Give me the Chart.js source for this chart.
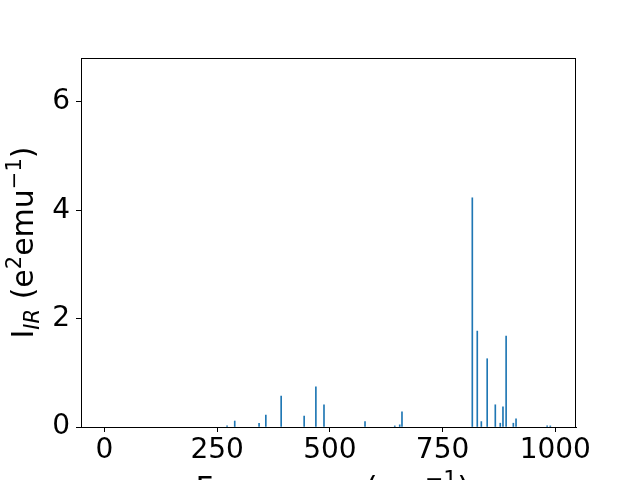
<!DOCTYPE html>
<html>
<head>
<meta charset="utf-8">
<script src="https://cdn.jsdelivr.net/npm/chart.js@4.4.0/dist/chart.umd.min.js"></script>
<style>
  html, body { margin: 0; padding: 0; background: #fff; }
  #wrap { width: 640px; height: 480px; }
</style>
</head>
<body>
<div id="wrap"><canvas id="irChart"></canvas></div>
<script>
// IR spectrum sticks (frequency in cm^-1, intensity in e^2 emu^-1)
const frequencies = [272, 289, 343, 358, 392, 443, 469, 487, 578, 644, 655, 660,
  816, 827, 836, 849, 867, 878, 884, 891, 907, 913, 982, 989];
const intensities = [0.02, 0.11, 0.07, 0.22, 0.57, 0.20, 0.74, 0.41, 0.10, 0.02, 0.04, 0.28,
  4.23, 1.77, 0.10, 1.26, 0.41, 0.07, 0.37, 1.68, 0.07, 0.15, 0.02, 0.02];
const xTicks = [0, 250, 500, 750, 1000];
const yTicks = [0, 2, 4, 6];

const FONT = 'DejaVu Sans';

// draws a run of text pieces (for sub/superscripts), centred on cx
function drawParts(ctx, parts, cx, baseY) {
  let w = 0;
  parts.forEach(p => { ctx.font = p.f; w += ctx.measureText(p.t).width; });
  let x = cx - w / 2;
  parts.forEach(p => {
    ctx.font = p.f;
    ctx.fillText(p.t, x, baseY + p.dy);
    x += ctx.measureText(p.t).width;
  });
}

// frame on top/right + axis titles
const framePlugin = {
  id: 'frame',
  afterDraw(chart) {
    const { ctx, chartArea: a } = chart;
    ctx.save();
    ctx.strokeStyle = '#000';
    ctx.lineWidth = 1;
    ctx.strokeRect(a.left + 0.5, a.top + 0.5, a.right - a.left - 1, a.bottom - a.top);

    ctx.fillStyle = '#000';
    ctx.textBaseline = 'alphabetic';

    const yParts = [
      { t: 'I', f: `30px "${FONT}"`, dy: 0 },
      { t: 'IR', f: `italic 21px "${FONT}"`, dy: 6 },
      { t: ' (e', f: `30px "${FONT}"`, dy: 0 },
      { t: '2', f: `21px "${FONT}"`, dy: -12 },
      { t: 'emu', f: `30px "${FONT}"`, dy: 0 },
      { t: '\u22121', f: `21px "${FONT}"`, dy: -12 },
      { t: ')', f: `30px "${FONT}"`, dy: 0 }
    ];
    ctx.translate(33, (a.top + a.bottom) / 2);
    ctx.rotate(-Math.PI / 2);
    drawParts(ctx, yParts, 0, 0);
    ctx.setTransform(1, 0, 0, 1, 0, 0);

    // x title, mostly below the canvas edge
    const xParts = [
      { t: 'Frequency (cm', f: `31px "${FONT}"`, dy: 0 },
      { t: '\u22121', f: `22px "${FONT}"`, dy: -12 },
      { t: ')', f: `31px "${FONT}"`, dy: 0 }
    ];
    drawParts(ctx, xParts, (a.left + a.right) / 2 + 4, 498);
    ctx.restore();
  }
};

new Chart(document.getElementById('irChart'), {
  type: 'bar',
  data: {
    datasets: [{
      data: frequencies.map((f, i) => ({ x: f, y: intensities[i] })),
      backgroundColor: '#1f77b4',
      borderWidth: 0,
      barThickness: 1
    }]
  },
  options: {
    responsive: true,
    maintainAspectRatio: false,
    animation: false,
    layout: { padding: { left: 0, right: 64, top: 58, bottom: 0 } },
    plugins: { legend: { display: false }, tooltip: { enabled: false } },
    scales: {
      x: {
        type: 'linear',
        offset: false,
        min: -52,
        max: 1046,
        afterBuildTicks(scale) { scale.ticks = xTicks.map(v => ({ value: v })); },
        afterFit(scale) { scale.height = 53; },
        ticks: {
          color: '#000', font: { family: FONT, size: 28 }, padding: 2, maxRotation: 0,
          callback: v => String(v)
        },
        grid: { offset: false, drawOnChartArea: false, drawTicks: true, tickLength: 5, color: '#000' },
        border: { display: true, color: '#000', width: 1 }
      },
      y: {
        min: 0,
        max: 6.81,
        afterBuildTicks(scale) { scale.ticks = yTicks.map(v => ({ value: v })); },
        afterFit(scale) { scale.width = 81; },
        ticks: { color: '#000', font: { family: FONT, size: 28 }, padding: 6 },
        grid: { drawOnChartArea: false, drawTicks: true, tickLength: 5, color: '#000' },
        border: { display: true, color: '#000', width: 1 }
      }
    }
  },
  plugins: [framePlugin]
});
</script>
</body>
</html>
